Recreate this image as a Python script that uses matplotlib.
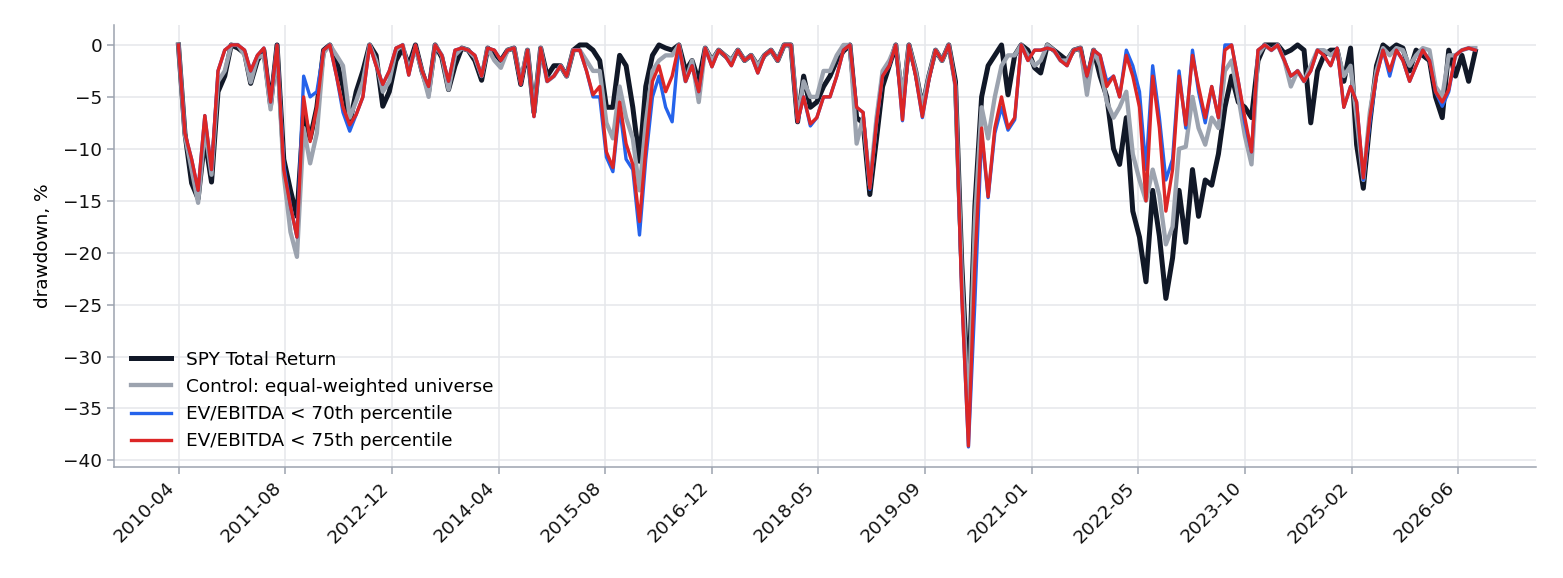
import numpy as np
import pandas as pd
import matplotlib
matplotlib.use("Agg")
import matplotlib.pyplot as plt

# monthly drawdown readings (%), starting 2010-04
spy = [
    0, -8.5, -13.3, -14.8, -9, -13.2, -4.5, -3, 0, -0.3,
    -0.8, -3.7, -1.5, -0.5, -5.8, 0, -11, -14, -16.5, -6.5,
    -9, -6, -0.5, 0, -1.5, -4, -7.5, -4.5, -2.5, 0,
    -1, -5.9, -4.5, -1.5, -0.3, -2, 0, -2.5, -4.5, 0,
    -1.2, -4.3, -2, -0.3, -0.5, -1.5, -3.4, -0.3, -0.8, -1.5,
    -0.5, -0.3, -3.8, -0.5, -6.5, -0.3, -3, -2, -2, -3,
    -0.5, 0, 0, -0.5, -1.5, -6, -6, -1, -2, -6,
    -11.2, -4, -1, 0, -0.3, -0.5, 0, -2.5, -1.5, -3.5,
    -0.3, -1.5, -0.5, -1, -1.5, -0.5, -1.5, -1, -2, -1,
    -0.5, -1.5, 0, 0, -7.4, -3, -6, -5.5, -4, -3,
    -1.5, -0.6, 0, -7, -7.5, -14.4, -9, -4, -2, 0,
    -5.5, 0, -2.5, -6, -3, -0.5, -1.5, 0, -3.5, -21,
    -34, -15.5, -5, -2, -1, 0, -4.8, -1, 0, -0.5,
    -2.2, -2.7, 0, -0.5, -1, -1.5, -0.5, -0.3, -3.5, -0.5,
    -3, -5, -10, -11.5, -7, -16, -18.5, -22.8, -14, -18.4,
    -24.4, -20.5, -14, -19, -12, -16.5, -13, -13.5, -10.5, -6,
    -3, -5.5, -6, -7, -1.5, 0, 0, 0, -0.8, -0.5,
    0, -0.5, -7.5, -2.5, -1, -0.5, -0.5, -3.5, -0.3, -9.6,
    -13.8, -7.5, -2, 0, -0.5, 0, -0.3, -2.5, -0.5, -1,
    -1.5, -5, -7, -0.5, -3, -1, -3.5, -0.6,
]
control = [
    0, -8.7, -12, -15.2, -8, -12.5, -3.5, -2.5, 0, 0,
    -1, -3.6, -1.2, -1, -6.2, -0.3, -12.5, -18, -20.4, -8,
    -11.4, -8.5, -0.8, 0, -1, -2, -7, -5.4, -3.5, 0,
    -1.5, -4.5, -3.5, -0.5, 0, -2.5, -0.3, -2.5, -5, 0,
    -1, -4.3, -1, -0.3, -0.5, -1.2, -3, -0.3, -1.5, -2.2,
    -0.5, -0.3, -3.5, -0.5, -6.5, -0.3, -3.5, -3, -2, -3,
    -0.5, -0.5, -1.5, -2.5, -2.5, -7.5, -9, -4, -7, -9,
    -14, -7.5, -2.5, -1.5, -1, -1, 0, -3.5, -1.5, -5.5,
    -0.3, -1.5, -0.5, -1, -1.5, -0.5, -1.5, -1, -2, -1,
    -0.5, -1.5, 0, 0, -7, -3.5, -5, -5, -2.5, -2.5,
    -1, 0, 0, -9.5, -7, -13.5, -7, -2.5, -1.5, 0,
    -5, 0, -2.5, -6, -3, -0.5, -1.5, 0, -4, -22,
    -36, -17, -6, -9, -5, -2, -1, -1, 0, -1,
    -2, -1.5, 0, -0.5, -1.5, -1.5, -0.5, -0.3, -4.8, -0.5,
    -2, -5.5, -7, -6, -4.5, -10.5, -13, -15, -12, -14.5,
    -19.2, -17.5, -10, -9.8, -5, -8, -9.6, -7, -8, -2.5,
    -1.5, -5, -8.7, -11.5, -1, 0, -0.5, 0, -1.5, -4,
    -2.5, -3.5, -2, -0.5, -0.5, -1, -0.5, -3, -2, -7,
    -13, -6.5, -2.5, -0.3, -1, -0.3, -0.5, -2, -1, -0.3,
    -0.5, -4, -5, -1, -1, -0.5, -0.3, -0.3,
]
ev70 = [
    0, -8.5, -11, -14, -6.8, -12, -2.5, -0.5, 0, 0,
    -0.5, -2.5, -1, -0.3, -5.5, 0, -11.5, -15.5, -18.5, -3,
    -5, -4.5, -0.5, 0, -3, -6.5, -8.3, -6.7, -5, 0,
    -2, -3.8, -2.5, -0.3, 0, -2.9, 0, -2.5, -4, 0,
    -1, -3.5, -0.5, -0.3, -0.5, -1, -3, -0.3, -0.5, -1.5,
    -0.5, -0.3, -3.8, -0.5, -6.9, -0.3, -3.5, -3, -2, -3,
    -0.5, -0.5, -2.5, -5, -5, -10.8, -12.2, -6, -11, -12,
    -18.3, -11, -5, -3, -6, -7.4, 0, -3.5, -2, -4.5,
    -0.3, -2.1, -0.5, -1, -2, -0.5, -1.5, -1, -2.7, -1,
    -0.5, -1.5, 0, 0, -7.4, -5, -7.8, -7, -5, -5,
    -3, -0.5, 0, -6, -6.5, -13.9, -7.5, -3, -2, 0,
    -7.3, 0, -3, -7, -3.4, -0.5, -1.5, 0, -4, -24,
    -38.7, -24.7, -8.5, -14.7, -8.5, -6, -8.2, -7.2, 0, -1.5,
    -0.5, -0.5, -0.3, -0.5, -1.5, -2, -0.5, -0.3, -3, -0.5,
    -1, -3.5, -3, -5, -0.5, -2, -4.5, -12, -2, -7,
    -13, -11, -2.5, -8, -0.5, -4.5, -7.5, -4, -7, 0,
    0, -3.5, -7.5, -10.3, -0.5, 0, -0.5, 0, -1.5, -3,
    -2.5, -3.5, -2.5, -0.5, -1, -2, -0.3, -6, -4, -5.5,
    -13, -7.5, -3, -0.5, -3, -0.5, -1.5, -3.5, -2, -0.5,
    -1.5, -4.5, -5.9, -4.5, -1, -0.5, -0.3, -0.5,
]
ev75 = [
    0, -8.5, -11, -14, -6.8, -12, -2.5, -0.5, 0, 0,
    -0.5, -2.5, -1, -0.3, -5.5, 0, -12, -15.5, -18.5, -5,
    -9.3, -6, -0.5, 0, -3, -6, -7.7, -6.7, -5, 0,
    -2, -3.8, -2.5, -0.3, 0, -2.9, 0, -2.5, -4, 0,
    -1, -3.5, -0.5, -0.3, -0.5, -1, -3, -0.3, -0.5, -1.5,
    -0.5, -0.3, -3.8, -0.5, -6.9, -0.3, -3.5, -3, -2, -3,
    -0.5, -0.5, -2.5, -4.8, -4, -10.3, -11.8, -5.5, -9.5, -11.5,
    -17, -10, -3.5, -2, -4.5, -3, 0, -3.5, -2, -4.5,
    -0.3, -2.1, -0.5, -1, -2, -0.5, -1.5, -1, -2.7, -1,
    -0.5, -1.5, 0, 0, -7.4, -5, -7.6, -7, -5, -5,
    -3, -0.5, 0, -6, -6.5, -13.8, -7.5, -3, -2, 0,
    -7.2, 0, -3, -6.9, -3.4, -0.5, -1.5, 0, -4, -24,
    -38.6, -21, -8, -14.6, -8, -5, -8, -7, 0, -1.5,
    -0.5, -0.5, -0.3, -0.5, -1.5, -2, -0.5, -0.3, -3, -0.5,
    -1, -4, -3, -5, -1, -3, -6, -15, -3, -8,
    -16, -12, -3, -7.7, -1, -4, -7, -4, -7, -0.5,
    0, -3.5, -7, -10.3, -0.5, 0, -0.5, 0, -1.5, -3,
    -2.5, -3.5, -2.5, -0.5, -1, -2, -0.3, -6, -4, -5.5,
    -12.8, -7, -3, -0.5, -2.5, -0.5, -1.5, -3.5, -2, -0.5,
    -1.5, -4.5, -5.5, -4.3, -1, -0.5, -0.3, -0.5,
]
tick_labels = ["2010-04", "2011-08", "2012-12", "2014-04", "2015-08", "2016-12",
               "2018-05", "2019-09", "2021-01", "2022-05", "2023-10", "2025-02",
               "2026-06"]

dates = pd.date_range("2010-04-01", periods=len(spy), freq="MS")
tick0 = pd.Timestamp("2010-04-01 12:00")
tick_pos = tick0 + pd.Timedelta(days=493.2) * np.arange(len(tick_labels))

plt.rcParams["font.size"] = 13.3
fig, ax = plt.subplots(figsize=(15.63, 5.78), dpi=100)
fig.subplots_adjust(left=0.073, right=0.983, top=0.957, bottom=0.192)

ax.plot(dates, spy, color="#111827", lw=3.6, label="SPY Total Return", zorder=2)
ax.plot(dates, control, color="#9ca3af", lw=3.1, label="Control: equal-weighted universe", zorder=3)
ax.plot(dates, ev70, color="#2563eb", lw=2.4, label="EV/EBITDA < 70th percentile", zorder=4)
ax.plot(dates, ev75, color="#dc2626", lw=2.4, label="EV/EBITDA < 75th percentile", zorder=5)

ax.set_xlim(tick0 - pd.Timedelta(days=298), tick0 + pd.Timedelta(days=6279))
ax.set_xticks(tick_pos)
ax.set_xticklabels(tick_labels, rotation=45, ha="right")
ax.set_ylabel("drawdown, %", labelpad=8)

ax.grid(True, color="#e5e7eb", lw=1.1)
ax.set_axisbelow(True)
for s in ["top", "right"]:
    ax.spines[s].set_visible(False)
for s in ["left", "bottom"]:
    ax.spines[s].set_color("#9ca3af")
    ax.spines[s].set_linewidth(1.1)
ax.tick_params(colors="#9ca3af", labelcolor="#111111", length=5, width=1.1)

ax.legend(loc="lower left", frameon=False, handlelength=2.2)

fig.savefig("out.png", dpi=100)
